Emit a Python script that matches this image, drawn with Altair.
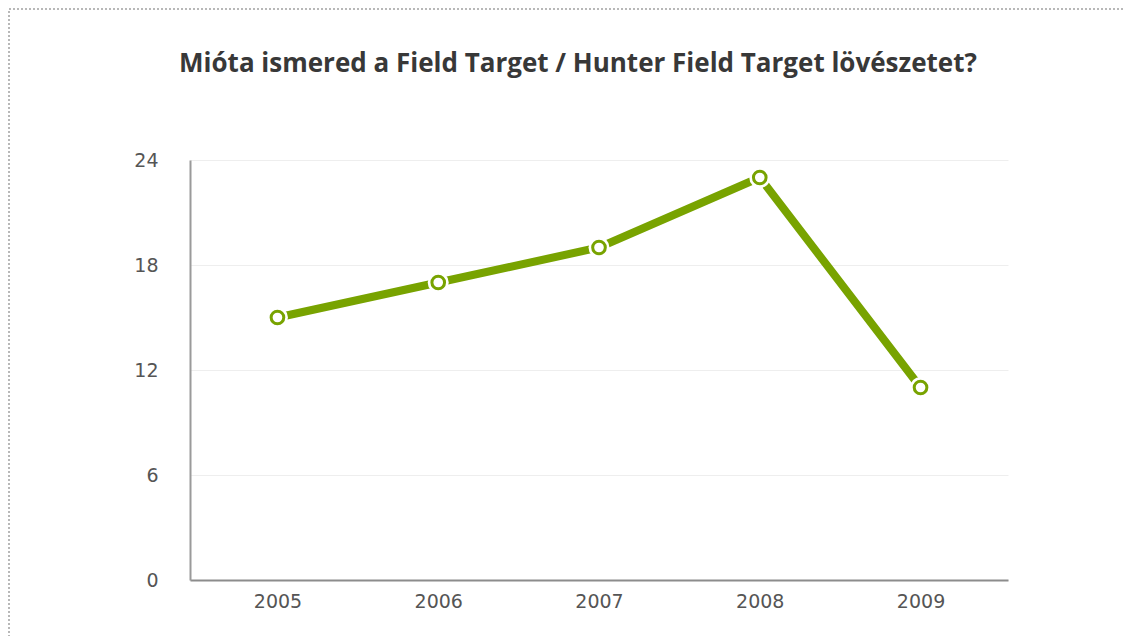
import altair as alt
import pandas as pd

years = ["2005", "2006", "2007", "2008", "2009"]
counts = [15, 17, 19, 23, 11]
y_ticks = [0, 6, 12, 18, 24]
title_text = "Mióta ismered a Field Target / Hunter Field Target lövészetet?"

df = pd.DataFrame({"year": years, "count": counts})

W, H = 818, 420
GREEN = "#78a300"

x = alt.X("year:N", sort=years,
          scale=alt.Scale(type="point", padding=0.544),
          axis=alt.Axis(title=None, labelAngle=0, ticks=False, labelPadding=12,
                        domainColor="#8c8c8c", domainWidth=2, grid=False))
y = alt.Y("count:Q", scale=alt.Scale(domain=[0, 24], nice=False),
          axis=alt.Axis(title=None, values=y_ticks, ticks=False, labelPadding=32,
                        domainColor="#9a9a9a", domainWidth=2,
                        gridColor="#eeeeee", gridWidth=1))

base = alt.Chart(df)

line = base.mark_line(color=GREEN, strokeWidth=8).encode(x=x, y=y)
halo = base.mark_point(shape="circle", filled=True, color="white", opacity=1,
                       size=440).encode(x=x, y=y)
ring = base.mark_point(shape="circle", filled=False, color=GREEN, opacity=1,
                       strokeWidth=3, fill="white", size=160).encode(x=x, y=y)

one = pd.DataFrame({"a": [0]})
border = alt.Chart(one).mark_rect(
    fill="transparent", stroke="#b8b8b8", strokeWidth=2, strokeDash=[2, 2]
).encode(x=alt.value(-181), x2=alt.value(W + 140),
         y=alt.value(-151), y2=alt.value(H + 80))

title = alt.Chart(one).mark_text(
    font="Open Sans", fontSize=26, fontWeight="bold", color="#383838",
    align="center", baseline="alphabetic"
).encode(x=alt.value(388), y=alt.value(-88), text=alt.value(title_text))

chart = alt.layer(border, title, line, halo, ring).properties(
    width=W, height=H,
    autosize=alt.AutoSizeParams(type="none"),
    padding={"left": 182, "top": 152, "right": 117, "bottom": 56},
).configure_view(stroke=None).configure_axis(
    labelFont="DejaVu Sans", labelFontSize=19, labelColor="#555555"
)

chart.save("out.html", embed_options={"renderer": "svg", "actions": False})
